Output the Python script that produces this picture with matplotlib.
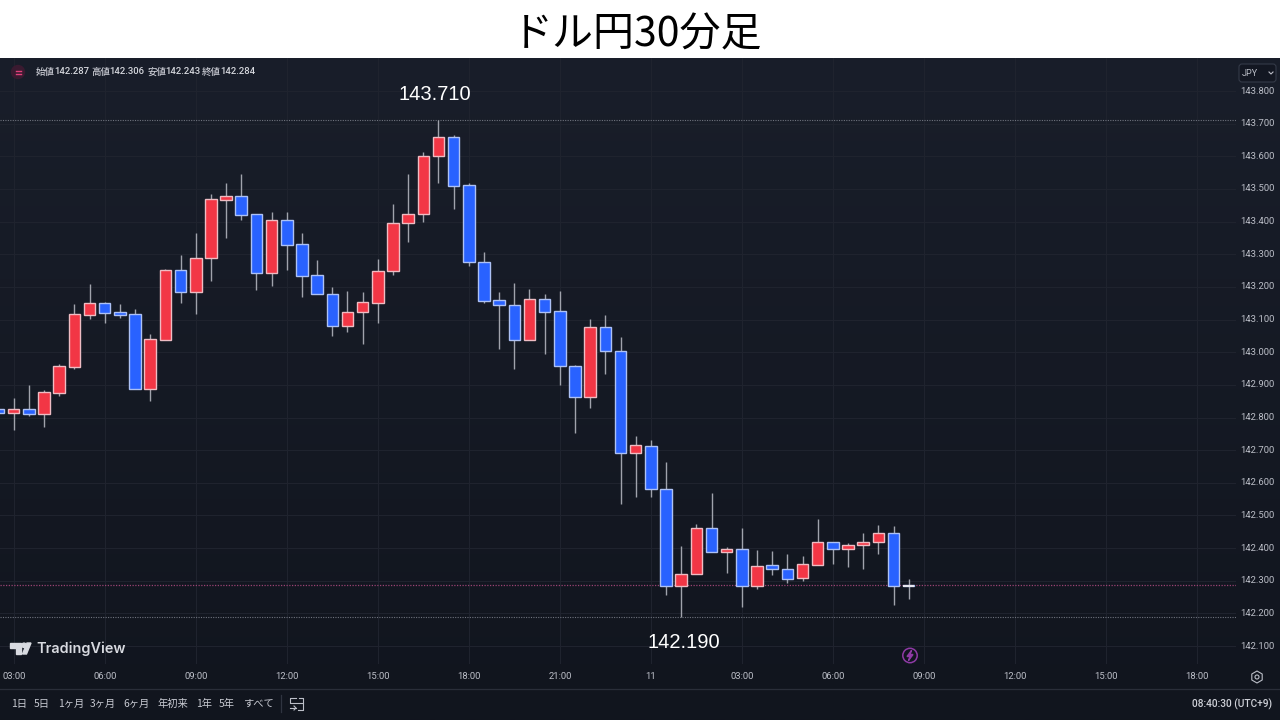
"""
ドル円30分足チャート (TradingView風) の再現
"""

import matplotlib
matplotlib.use("Agg")
import matplotlib.pyplot as plt
import numpy as np
from matplotlib.patches import Circle, FancyBboxPatch, Polygon, RegularPolygon

plt.rcParams["font.family"] = ["Noto Sans CJK JP", "DejaVu Sans"]

# 足データ: index -1 が画面左端で切れている足、index 0 が 03:00
OPENS = [
    142.825, 142.813, 142.827, 142.811, 142.876, 142.956, 143.113, 143.150, 143.123, 143.116, 142.886,
    143.038, 143.251, 143.185, 143.288, 143.466, 143.478, 143.422, 143.242, 143.404, 143.331, 143.236,
    143.179, 143.080, 143.122, 143.152, 143.249, 143.395, 143.422, 143.601, 143.658, 143.511, 143.277,
    143.159, 143.145, 143.036, 143.164, 143.125, 142.959, 142.863, 143.078, 143.003, 142.691, 142.714,
    142.582, 142.285, 142.320, 142.462, 142.388, 142.396, 142.285, 142.347, 142.335, 142.309, 142.349,
    142.419, 142.398, 142.410, 142.418, 142.445, 142.287,
]
HIGHS = [
    142.830, 142.859, 142.899, 142.884, 142.964, 143.148, 143.209, 143.154, 143.148, 143.133, 143.056,
    143.254, 143.298, 143.366, 143.485, 143.517, 143.546, 143.422, 143.429, 143.429, 143.364, 143.282,
    143.201, 143.187, 143.184, 143.285, 143.454, 143.546, 143.612, 143.710, 143.666, 143.519, 143.306,
    143.183, 143.213, 143.193, 143.177, 143.188, 142.962, 143.101, 143.113, 143.047, 142.744, 142.730,
    142.664, 142.406, 142.473, 142.568, 142.404, 142.461, 142.394, 142.392, 142.382, 142.376, 142.490,
    142.419, 142.417, 142.446, 142.471, 142.468, 142.306,
]
LOWS = [
    142.810, 142.762, 142.805, 142.771, 142.867, 142.949, 143.102, 143.089, 143.106, 142.886, 142.851,
    143.038, 143.150, 143.117, 143.219, 143.351, 143.405, 143.190, 143.204, 143.252, 143.170, 143.178,
    143.050, 143.062, 143.025, 143.089, 143.236, 143.338, 143.400, 143.517, 143.439, 143.264, 143.152,
    143.011, 142.949, 143.036, 142.994, 142.900, 142.753, 142.828, 142.933, 142.534, 142.557, 142.557,
    142.257, 142.190, 142.320, 142.388, 142.324, 142.221, 142.275, 142.318, 142.292, 142.299, 142.349,
    142.350, 142.343, 142.335, 142.383, 142.226, 142.243,
]
CLOSES = [
    142.813, 142.827, 142.811, 142.878, 142.957, 143.116, 143.150, 143.121, 143.113, 142.886, 143.040,
    143.251, 143.185, 143.289, 143.468, 143.478, 143.419, 143.242, 143.404, 143.329, 143.234, 143.178,
    143.080, 143.123, 143.153, 143.250, 143.397, 143.423, 143.602, 143.658, 143.510, 143.275, 143.158,
    143.144, 143.036, 143.164, 143.124, 142.958, 142.863, 143.078, 143.003, 142.691, 142.717, 142.581,
    142.285, 142.321, 142.462, 142.388, 142.396, 142.285, 142.345, 142.335, 142.306, 142.350, 142.419,
    142.397, 142.410, 142.419, 142.445, 142.285, 142.284,
]
FIRST_BAR = -1

PRICE_TICKS = [142.1, 142.2, 142.3, 142.4, 142.5, 142.6, 142.7, 142.8, 142.9, 143.0,
               143.1, 143.2, 143.3, 143.4, 143.5, 143.6, 143.7, 143.8]
TIME_TICKS = [0, 6, 12, 18, 24, 30, 36, 42, 48, 54, 60, 66, 72, 78]
TIME_LABELS = ["03:00", "06:00", "09:00", "12:00", "15:00", "18:00", "21:00", "11",
               "03:00", "06:00", "09:00", "12:00", "15:00", "18:00"]

HIGH_LINE = 143.710
LOW_LINE = 142.190
LAST_PRICE = 142.287

RANGE_LABELS = ["1日", "5日", "1ヶ月", "3ヶ月", "6ヶ月", "年初来", "1年", "5年", "すべて"]
RANGE_X = [19, 42, 71, 103, 137, 173, 204, 227, 258]
OHLC_LABELS = ["始値", "高値", "安値", "終値"]
OHLC_VALUES = ["142.287", "142.306", "142.243", "142.284"]
OHLC_X = [36, 91, 147, 202]

W, H = 1280, 720
BAND_H = 58       # 上の白帯
AXIS_R = 1236     # 価格軸の左端
AXIS_B = 664      # 時間軸の上端
BAR_PX = 15.17

UP_COLOR = "#f23645"
UP_EDGE = "#eebcc3"
DOWN_COLOR = "#2962ff"
DOWN_EDGE = "#adc1f4"
WICK_COLOR = "#a0a3ac"
GRID_COLOR = "#20242f"
TEXT_COLOR = "#bcbfc8"

fig = plt.figure(figsize=(W / 100, H / 100), dpi=100, facecolor="white")

# --- 背景 (上がわずかに明るいグラデーション) ---
bg = fig.add_axes([0, 0, 1, (H - BAND_H) / H], zorder=0)
grad = np.linspace(0, 1, 256).reshape(-1, 1, 1)
top, bottom = np.array([0x19, 0x1e, 0x2a]) / 255, np.array([0x11, 0x15, 0x1e]) / 255
bg.imshow(top + (bottom - top) * grad, aspect="auto")
bg.axis("off")

# --- ローソク足 ---
ax = fig.add_axes([0, (H - AXIS_B) / H, AXIS_R / W, (AXIS_B - BAND_H) / H], zorder=1)
ax.patch.set_alpha(0)
ax.set_xlim(-13.7 / BAR_PX, (AXIS_R - 13.7) / BAR_PX)
ax.set_ylim(143.8 - (AXIS_B - 91) / 326.5, 143.8 + (91 - BAND_H) / 326.5)
for side in ax.spines.values():
    side.set_visible(False)
ax.tick_params(left=False, bottom=False, labelleft=False, labelbottom=False)
ax.set_yticks(PRICE_TICKS)
ax.set_xticks(TIME_TICKS)
ax.grid(True, color=GRID_COLOR, linewidth=0.7)
ax.set_axisbelow(True)

opens, highs, lows, closes = map(np.array, (OPENS, HIGHS, LOWS, CLOSES))
xs = np.arange(len(opens)) + FIRST_BAR
up = closes >= opens

ax.axhline(HIGH_LINE, color="#6f737e", linewidth=0.8, linestyle=(0, (1, 1.2)), zorder=1.5)
ax.axhline(LOW_LINE, color="#6f737e", linewidth=0.8, linestyle=(0, (1, 1.2)), zorder=1.5)
ax.vlines(xs, lows, highs, color=WICK_COLOR, linewidth=1.0, zorder=2)
ax.bar(xs[up], (closes - opens)[up], bottom=opens[up], width=0.76,
       color=UP_COLOR, edgecolor=UP_EDGE, linewidth=1.0, zorder=3)
ax.bar(xs[~up], (closes - opens)[~up], bottom=opens[~up], width=0.76,
       color=DOWN_COLOR, edgecolor=DOWN_EDGE, linewidth=1.0, zorder=3)
ax.axhline(LAST_PRICE, color="#9a4373", linewidth=0.9, linestyle=(0, (1, 1.2)), zorder=2.5)
# 最新足は白い横線に見える
ax.hlines(closes[-1], xs[-1] - 0.38, xs[-1] + 0.38, color="#e8e8ee", linewidth=1.4, zorder=4)

ax.text(27.75, HIGH_LINE + 0.08, "143.710", color="white", fontsize=14.5, ha="center", va="center",
        family="Liberation Sans")
ax.text(44.2, LOW_LINE - 0.078, "142.190", color="white", fontsize=14.5, ha="center", va="center",
        family="Liberation Sans")

# --- 以下、枠まわりはピクセル座標で置く ---
ui = fig.add_axes([0, 0, 1, 1], zorder=2)
ui.set_xlim(0, W)
ui.set_ylim(H, 0)
ui.axis("off")
ui.patch.set_alpha(0)

ui.text(637, 35, "ドル円30分足", color="black", fontsize=29.5, ha="center", va="center")

# 価格軸 / 時間軸ラベル
for price in PRICE_TICKS:
    py = 91 + (143.8 - price) * 326.5
    ui.text(1257, py, f"{price:.3f}", color=TEXT_COLOR, fontsize=6.8, ha="center", va="center",
            family="Roboto")
for bar, label in zip(TIME_TICKS, TIME_LABELS):
    ui.text(13.7 + bar * BAR_PX, 676.5, label, color=TEXT_COLOR, fontsize=6.8, ha="center", va="center",
            family="Roboto")

# OHLC 表示
for x, label, value in zip(OHLC_X, OHLC_LABELS, OHLC_VALUES):
    ui.text(x, 72, label, color="#c8cad2", fontsize=6.8, ha="left", va="center", fontweight="medium")
    ui.text(x + 18.5, 72, value, color="#d6d8de", fontsize=6.8, ha="left", va="center", family="Roboto",
            fontweight="medium")
ui.add_patch(Circle((18, 72), 6.5, color="#3a1a30"))
ui.plot([15.5, 20.5], [70.5, 70.5], color="#e0407a", linewidth=1)
ui.plot([15.5, 20.5], [73.5, 73.5], color="#e0407a", linewidth=1)

# JPY ボタン
ui.add_patch(FancyBboxPatch((1239, 64), 37, 18, boxstyle="round,pad=0,rounding_size=3",
                            facecolor="#131722", edgecolor="#343a48", linewidth=0.8))
ui.text(1241.5, 73, "JPY", color=TEXT_COLOR, fontsize=6.6, ha="left", va="center", family="Roboto")
ui.plot([1269, 1271, 1273], [72, 74, 72], color=TEXT_COLOR, linewidth=0.8)

# TradingView ロゴ
ui.add_patch(Polygon([(10, 643), (20.5, 643), (20.5, 654), (15.5, 654), (15.5, 648), (10, 648)], color="#d8dae0"))
ui.add_patch(Circle((24, 645.3), 2.2, color="#d8dae0"))
ui.add_patch(Polygon([(27, 643), (31, 643), (26.5, 654), (22.5, 654)], color="#d8dae0"))
ui.text(36, 649, "TradingView", color="#d8dae0", fontsize=10.4, ha="left", va="center", family="Inter",
        fontweight="semibold")

# 稲妻アイコン
ui.add_patch(Circle((910, 655.5), 7.2, facecolor="none", edgecolor="#8f3aa5", linewidth=1.1))
ui.add_patch(Polygon([(911.5, 650.5), (907, 656.5), (910, 656.5), (908.5, 660.5), (913, 654.5), (910, 654.5)],
                     color="#8f3aa5"))

# 下部ツールバー
ui.plot([0, W], [688.5, 688.5], color="#2a2e39", linewidth=0.9)
for x, label in zip(RANGE_X, RANGE_LABELS):
    ui.text(x, 704, label, color="#c8cad2", fontsize=7.4, ha="center", va="center")
ui.plot([281, 281], [695, 712], color="#2f3440", linewidth=0.9)
ui.plot([296, 290, 290, 303, 303, 298], [698, 698, 703, 703, 710, 710], color=TEXT_COLOR, linewidth=0.8)
ui.plot([303, 303, 299], [703, 698, 698], color=TEXT_COLOR, linewidth=0.8)
ui.plot([290, 296], [708, 708], color=TEXT_COLOR, linewidth=0.8)
ui.plot([294, 296, 294], [706, 708, 710], color=TEXT_COLOR, linewidth=0.8)
ui.text(1272, 704, "08:40:30 (UTC+9)", color="#d0d2d9", fontsize=7.3, ha="right", va="center", family="Roboto",
        fontweight="medium")

# 設定アイコン
ui.add_patch(RegularPolygon((1257, 677), 6, radius=6, facecolor="none", edgecolor=TEXT_COLOR, linewidth=0.8))
ui.add_patch(Circle((1257, 677), 2, facecolor="none", edgecolor=TEXT_COLOR, linewidth=0.8))

fig.savefig("out.png", dpi=100)
plt.close(fig)
